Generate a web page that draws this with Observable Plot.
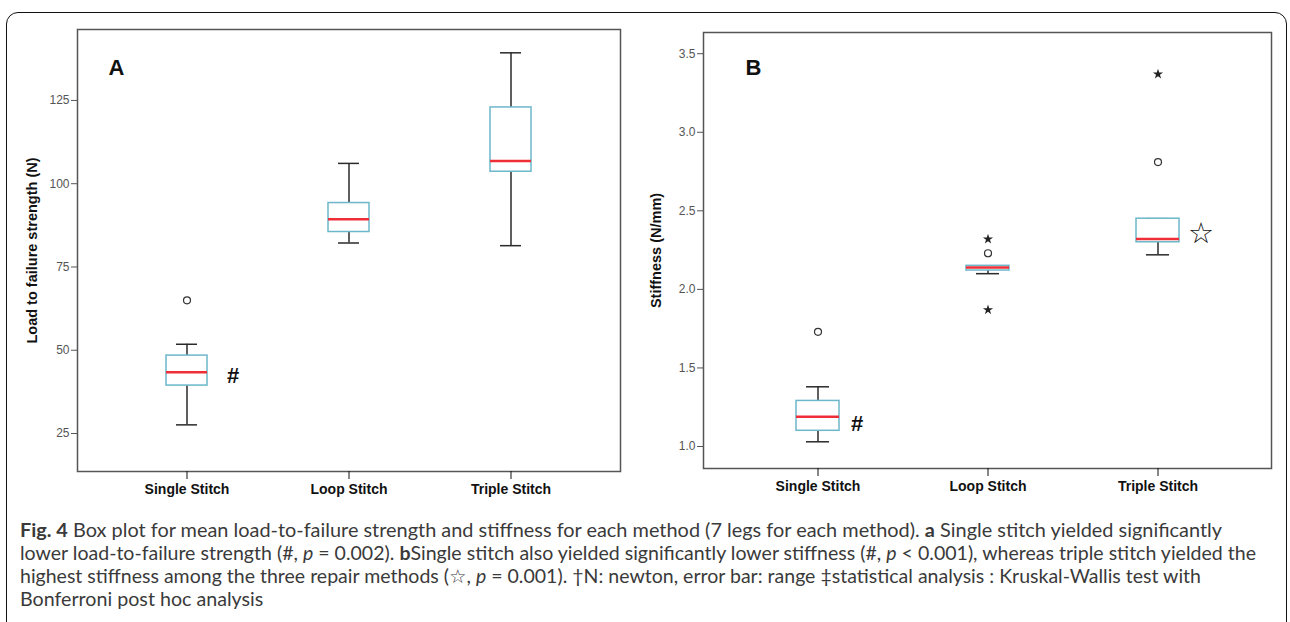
<!DOCTYPE html>
<html><head><meta charset="utf-8">
<script src="https://cdn.jsdelivr.net/npm/d3@7"></script>
<script src="https://cdn.jsdelivr.net/npm/@observablehq/plot@0.6"></script>
<style>
body{margin:0;background:#fff;width:1290px;height:622px;overflow:hidden;position:relative;font-family:"Liberation Sans",Arial,sans-serif;}
#frame{position:absolute;left:6px;top:12px;width:1281px;height:700px;border:1.5px solid #111;border-radius:12px;box-sizing:border-box}
#a{position:absolute;left:0;top:0}
#b{position:absolute;left:640px;top:0}
#cap{position:absolute;left:20px;top:518px;font-family:Lato,"Open Sans",sans-serif;font-size:19px;line-height:23px;color:#3a3a3a}
#cap .line{display:block;white-space:nowrap;height:23px}
#cap .line span.t{display:inline-block;white-space:nowrap;transform-origin:0 50%}
</style></head><body>
<div id="frame"></div>
<div id="a"></div>
<div id="b"></div>
<div id="cap">
<div class="line"><span class="t"><b>Fig. 4</b> Box plot for mean load-to-failure strength and stiffness for each method (7 legs for each method). <b>a</b> Single stitch yielded significantly</span></div>
<div class="line"><span class="t">lower load-to-failure strength (#, <i>p</i> = 0.002). <b>b</b>Single stitch also yielded significantly lower stiffness (#, <i>p</i> &lt; 0.001), whereas triple stitch yielded the</span></div>
<div class="line"><span class="t">highest stiffness among the three repair methods (☆, <i>p</i> = 0.001). †N: newton, error bar: range ‡statistical analysis : Kruskal-Wallis test with</span></div>
<div class="line"><span class="t">Bonferroni post hoc analysis</span></div>
</div>
<script>
// ---- data ----
const categories = ["Single Stitch", "Loop Stitch", "Triple Stitch"];

// Panel A: load to failure strength (N)
const loadMin    = [27.6, 82.2, 81.4];
const loadQ1     = [39.4, 85.5, 103.6];
const loadMedian = [43.4, 89.3, 106.8];
const loadQ3     = [48.4, 94.2, 122.9];
const loadMax    = [51.8, 106.1, 139.3];
const loadOutlierCats   = ["Single Stitch"];
const loadOutlierValues = [65.0];
const loadOutlierKinds  = ["o"];
const loadTicks = [25, 50, 75, 100, 125];
const loadDomain = [13.6, 146.3];

// Panel B: stiffness (N/mm)
const stiffMin    = [1.03, 2.10, 2.22];
const stiffQ1     = [1.10, 2.12, 2.30];
const stiffMedian = [1.19, 2.14, 2.32];
const stiffQ3     = [1.29, 2.15, 2.45];
const stiffMax    = [1.38, 2.15, 2.45];
const stiffOutlierCats   = ["Single Stitch", "Loop Stitch", "Loop Stitch", "Loop Stitch", "Triple Stitch", "Triple Stitch"];
const stiffOutlierValues = [1.73, 2.32, 2.23, 1.87, 2.81, 3.37];
const stiffOutlierKinds  = ["o", "*", "o", "*", "o", "*"];
const stiffTicks = [1.0, 1.5, 2.0, 2.5, 3.0, 3.5];
const stiffDomain = [0.86, 3.635];

// significance markers
const loadHashCats = ["Single Stitch"];
const loadHashY = [42.2];
const stiffHashCats = ["Single Stitch"];
const stiffHashY = [1.146];
const stiffStarCats = ["Triple Stitch"];
const stiffStarY = [2.356];

function boxPanel(o) {
  const rows = categories.map((c, i) => ({cat: c, lo: o.lo[i], q1: o.q1[i], med: o.med[i], q3: o.q3[i], hi: o.hi[i]}));
  const outs = o.outCats.map((c, i) => ({cat: c, v: o.outVals[i], kind: o.outKinds[i]}));
  const whisk = {stroke: "#2a2a2a", strokeWidth: 1.5};
  const marks = [
    Plot.frame({stroke: "#555", strokeWidth: 1.5}),
    Plot.axisY({ticks: o.ticks, tickFormat: o.fmt, tickSize: 6, tickPadding: 2, fontSize: 12, color: "#555"}),
    Plot.axisX({tickSize: 8, tickPadding: 5, fontSize: 14, fontWeight: "bold", color: "#111"}),
    Plot.ruleX(rows, {x: "cat", y1: "lo", y2: "q1", ...whisk}),
    Plot.ruleX(rows, {x: "cat", y1: "q3", y2: "hi", ...whisk}),
    Plot.tickY(rows, {x: "cat", y: "lo", insetLeft: 10, insetRight: 10, ...whisk}),
    Plot.tickY(rows, {x: "cat", y: "hi", insetLeft: 10, insetRight: 10, ...whisk}),
    Plot.barY(rows, {x: "cat", y1: "q1", y2: "q3", fill: "white", stroke: "#6db7cb", strokeWidth: 1.5}),
    Plot.tickY(rows, {x: "cat", y: "med", stroke: "#ee2f38", strokeWidth: 2.5}),
    Plot.dot(outs.filter(d => d.kind === "o"), {x: "cat", y: "v", r: 3.5, stroke: "#333", fill: "white", strokeWidth: 1.2}),
    Plot.dot(outs.filter(d => d.kind === "*"), {x: "cat", y: "v", symbol: "star", r: 3.2, fill: "#222", stroke: "none"}),
    Plot.text(o.hashCats.map((c, i) => ({cat: c, y: o.hashY[i]})), {x: "cat", y: "y", text: () => "#", dx: o.hashDx, fontSize: 22, fontWeight: "bold", fill: "#111"}),
    Plot.text([o.letter], {frameAnchor: "top-left", dx: o.letterDx, dy: o.letterDy, textAnchor: "start", lineAnchor: "middle", fontSize: 22, fontWeight: "bold", fill: "#111"}),
    Plot.text([o.ylabel], {frameAnchor: "left", dx: o.ylDx, rotate: -90, textAnchor: "middle", lineAnchor: "middle", fontSize: 14.5, fontWeight: "bold", fill: "#111"})
  ];
  if (o.starCats) {
    marks.push(Plot.text(o.starCats.map((c, i) => ({cat: c, y: o.starY[i]})), {x: "cat", y: "y", text: () => "☆", dx: 43, fontSize: 29, fontFamily: "DejaVu Sans", fill: "#111"}));
  }
  return Plot.plot({
    width: o.width, height: 510,
    marginLeft: o.ml, marginRight: o.mr, marginTop: o.mt, marginBottom: 510 - o.mb,
    style: {fontFamily: "Liberation Sans, Arial, sans-serif", background: "transparent", overflow: "visible"},
    x: {type: "band", domain: categories, paddingInner: 0.75, paddingOuter: 0.545, label: null},
    y: {domain: o.domain, label: null},
    marks
  });
}

document.getElementById("a").append(boxPanel({
  width: 640, ml: 77, mr: 20, mt: 29, mb: 471,
  lo: loadMin, q1: loadQ1, med: loadMedian, q3: loadQ3, hi: loadMax,
  outCats: loadOutlierCats, outVals: loadOutlierValues, outKinds: loadOutlierKinds,
  ticks: loadTicks, fmt: d3.format("d"), domain: loadDomain,
  hashCats: loadHashCats, hashY: loadHashY, hashDx: 46,
  letter: "A", letterDx: 31, letterDy: 38,
  ylabel: "Load to failure strength (N)", ylDx: -45
}));

document.getElementById("b").append(boxPanel({
  width: 650, ml: 63, mr: 19, mt: 32, mb: 468,
  lo: stiffMin, q1: stiffQ1, med: stiffMedian, q3: stiffQ3, hi: stiffMax,
  outCats: stiffOutlierCats, outVals: stiffOutlierValues, outKinds: stiffOutlierKinds,
  ticks: stiffTicks, fmt: d3.format(".1f"), domain: stiffDomain,
  hashCats: stiffHashCats, hashY: stiffHashY, hashDx: 39,
  starCats: stiffStarCats, starY: stiffStarY,
  letter: "B", letterDx: 42, letterDy: 35,
  ylabel: "Stiffness (N/mm)", ylDx: -47
}));

// fit caption lines to the reference line widths (condensed look)
const targets = [1202, 1236, 1181];
let scales = [];
document.querySelectorAll("#cap .t").forEach((el, i) => {
  if (i >= targets.length) return;
  const w = el.getBoundingClientRect().width;
  const s = targets[i] / w;
  scales.push(s);
  el.style.transform = `scaleX(${s})`;
});
const avg = scales.reduce((a, b) => a + b, 0) / scales.length;
const last = document.querySelectorAll("#cap .t")[3];
last.style.transform = `scaleX(${avg})`;
</script>
</body></html>
